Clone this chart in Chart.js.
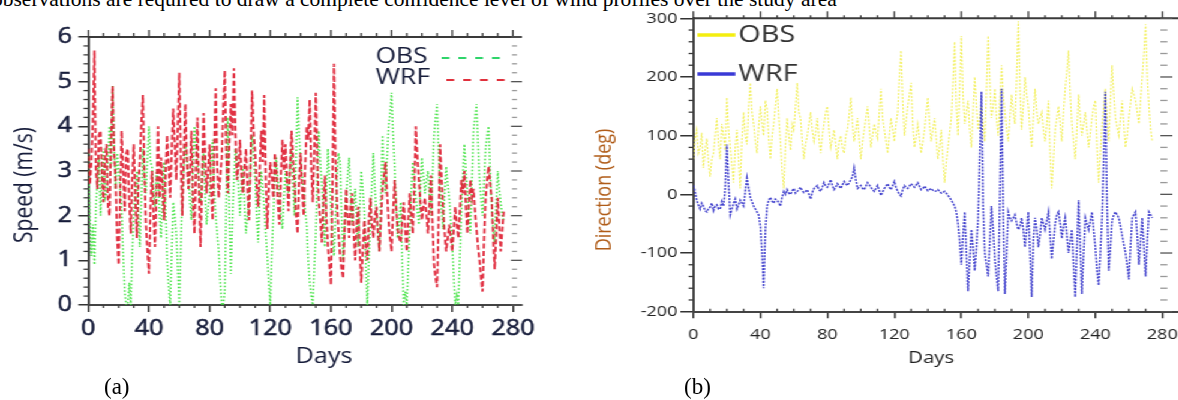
<!DOCTYPE html>
<html>
<head>
<meta charset="utf-8">
<script src="https://cdn.jsdelivr.net/npm/chart.js@4.4.1/dist/chart.umd.min.js"></script>
<style>
  html, body { margin: 0; background: #fff; }
  body { width: 1178px; height: 400px; overflow: hidden; position: relative; }
  /* both panels were laid out at 982px and widened by 1.2 */
  #page { position: absolute; left: 0; top: 0; width: 982px; height: 400px; transform: scaleX(1.2); transform-origin: 0 0; }
  #page canvas { position: absolute; top: 0; }
  .serif { position: absolute; font-family: "Liberation Serif", "Times New Roman", serif; font-size: 21.5px; line-height: 21px; color: #000; white-space: nowrap; }
</style>
</head>
<body>
<div class="serif" style="left:-8px; top:-11.5px">observations are required to draw a complete confidence level of wind profiles over the study area</div>
<div id="page">
  <canvas id="speedChart" width="467" height="400" style="left:0; width:467px; height:400px"></canvas>
  <canvas id="dirChart" width="490" height="400" style="left:491.7px; width:490px; height:400px"></canvas>
</div>
<div class="serif" style="left:104px; top:376px; font-size:23px">(a)</div>
<div class="serif" style="left:684px; top:376px; font-size:23px">(b)</div>
<script>
// one sample per day
var DAYS = [
  0, 1, 2, 3, 4, 5, 6, 7, 8, 9, 10, 11, 12, 13, 14, 15, 16, 17, 18, 19,
  20, 21, 22, 23, 24, 25, 26, 27, 28, 29, 30, 31, 32, 33, 34, 35, 36, 37, 38, 39,
  40, 41, 42, 43, 44, 45, 46, 47, 48, 49, 50, 51, 52, 53, 54, 55, 56, 57, 58, 59,
  60, 61, 62, 63, 64, 65, 66, 67, 68, 69, 70, 71, 72, 73, 74, 75, 76, 77, 78, 79,
  80, 81, 82, 83, 84, 85, 86, 87, 88, 89, 90, 91, 92, 93, 94, 95, 96, 97, 98, 99,
  100, 101, 102, 103, 104, 105, 106, 107, 108, 109, 110, 111, 112, 113, 114, 115, 116, 117, 118, 119,
  120, 121, 122, 123, 124, 125, 126, 127, 128, 129, 130, 131, 132, 133, 134, 135, 136, 137, 138, 139,
  140, 141, 142, 143, 144, 145, 146, 147, 148, 149, 150, 151, 152, 153, 154, 155, 156, 157, 158, 159,
  160, 161, 162, 163, 164, 165, 166, 167, 168, 169, 170, 171, 172, 173, 174, 175, 176, 177, 178, 179,
  180, 181, 182, 183, 184, 185, 186, 187, 188, 189, 190, 191, 192, 193, 194, 195, 196, 197, 198, 199,
  200, 201, 202, 203, 204, 205, 206, 207, 208, 209, 210, 211, 212, 213, 214, 215, 216, 217, 218, 219,
  220, 221, 222, 223, 224, 225, 226, 227, 228, 229, 230, 231, 232, 233, 234, 235, 236, 237, 238, 239,
  240, 241, 242, 243, 244, 245, 246, 247, 248, 249, 250, 251, 252, 253, 254, 255, 256, 257, 258, 259,
  260, 261, 262, 263, 264, 265, 266, 267, 268, 269, 270, 271, 272, 273, 274
];

// wind speed (m/s)
var OBS_SPEED = [
  3.4, 2.0, 1.1, 1.8, 0.9, 2.2, 2.8, 3.3, 2.0, 2.9,
  3.5, 2.4, 2.5, 3.3, 4.0, 3.1, 4.9, 3.6, 2.6, 3.4,
  3.0, 2.6, 2.2, 1.1, 0.3, 0.0, 0.0, 0.5, 0.0, 1.2,
  2.0, 2.6, 3.0, 2.1, 1.3, 2.4, 3.5, 2.8, 2.5, 3.3,
  4.0, 3.2, 3.1, 2.5, 2.2, 3.0, 2.8, 2.0, 1.5, 2.6,
  3.2, 2.1, 1.0, 0.4, 0.0, 1.2, 2.3, 2.0, 1.6, 0.8,
  0.0, 1.3, 2.4, 3.1, 3.6, 3.3, 2.9, 2.3, 1.9, 3.0,
  4.0, 3.5, 3.2, 2.6, 2.3, 2.9, 3.4, 2.5, 1.8, 2.2,
  2.5, 3.2, 3.7, 2.6, 2.0, 1.6, 1.2, 0.5, 0.0, 0.0,
  0.3, 2.5, 4.2, 2.0, 0.7, 1.9, 2.8, 3.5, 3.3, 2.6,
  2.0, 2.7, 3.1, 2.2, 1.6, 2.0, 2.4, 3.2, 3.8, 3.3,
  2.8, 2.0, 1.4, 2.3, 3.0, 2.6, 2.2, 1.6, 1.1, 0.5,
  0.0, 1.1, 2.0, 2.9, 3.3, 2.8, 2.5, 2.0, 1.7, 2.4,
  3.0, 2.7, 2.5, 3.1, 3.5, 2.6, 2.0, 3.3, 4.65, 3.8,
  3.2, 2.9, 2.6, 2.1, 1.8, 1.0, 0.5, 0.2, 0.0, 0.8,
  1.6, 2.9, 3.9, 3.2, 2.7, 2.0, 1.3, 2.5, 3.5, 2.8,
  2.2, 1.6, 1.1, 2.0, 2.9, 3.4, 3.2, 2.0, 1.0, 1.7,
  2.4, 2.9, 3.3, 2.5, 1.8, 2.2, 2.6, 1.9, 1.3, 2.2,
  3.0, 2.6, 2.1, 0.9, 0.0, 1.0, 1.9, 2.7, 3.4, 2.6,
  2.0, 1.6, 1.2, 2.5, 3.8, 3.0, 2.5, 3.3, 4.0, 4.3,
  4.75, 3.8, 3.1, 2.2, 1.5, 1.9, 2.3, 1.0, 0.0, 0.3,
  0.0, 0.9, 1.7, 2.6, 3.2, 2.8, 2.4, 2.1, 1.8, 2.6,
  3.3, 2.9, 2.5, 2.8, 3.0, 2.4, 2.0, 2.9, 3.8, 4.2,
  4.5, 3.4, 2.6, 2.1, 1.7, 2.5, 3.1, 2.7, 2.4, 1.9,
  1.4, 0.6, 0.0, 0.2, 0.0, 1.1, 2.0, 2.9, 3.6, 3.0,
  2.5, 2.0, 1.6, 2.8, 3.9, 4.2, 4.5, 3.6, 2.8, 2.4,
  2.0, 2.8, 3.5, 3.8, 4.0, 3.0, 2.2, 1.7, 1.4, 2.3,
  3.0, 2.6, 2.3, 2.0, 1.9
];
var WRF_SPEED = [
  3.5, 2.7, 3.2, 4.1, 5.7, 3.0, 2.6, 3.8, 3.9, 2.9,
  2.3, 3.3, 3.6, 2.2, 2.0, 3.7, 4.9, 3.4, 2.8, 1.5,
  0.9, 2.5, 3.9, 3.0, 2.1, 3.4, 3.5, 2.3, 1.6, 2.9,
  3.6, 2.4, 1.5, 2.7, 3.2, 4.1, 4.7, 2.9, 1.8, 1.2,
  0.7, 2.2, 3.0, 2.0, 1.3, 2.6, 4.0, 2.4, 3.3, 2.6,
  1.9, 3.0, 3.8, 3.1, 2.4, 3.5, 4.4, 3.6, 2.8, 4.0,
  5.2, 3.3, 2.0, 3.4, 4.5, 3.2, 2.6, 3.0, 3.9, 2.4,
  1.6, 3.1, 4.2, 2.5, 1.3, 2.8, 4.3, 3.4, 2.5, 3.0,
  3.6, 2.6, 1.9, 3.5, 4.85, 3.1, 2.4, 2.9, 3.3, 4.4,
  5.25, 3.4, 2.5, 3.6, 4.5, 3.8, 5.3, 3.9, 2.8, 3.1,
  3.7, 2.9, 2.5, 3.1, 3.5, 2.6, 1.9, 3.3, 4.8, 3.9,
  3.4, 2.7, 2.2, 3.0, 3.9, 3.2, 4.7, 2.9, 1.7, 2.6,
  3.2, 2.9, 2.4, 3.4, 3.0, 2.3, 1.8, 2.9, 3.7, 3.0,
  3.6, 2.8, 2.1, 3.0, 3.9, 3.3, 2.7, 2.0, 1.6, 2.8,
  3.4, 2.6, 2.0, 3.1, 4.0, 3.7, 4.6, 3.1, 2.3, 3.4,
  4.75, 3.2, 2.3, 1.9, 1.4, 2.2, 2.9, 2.0, 1.3, 0.9,
  0.45, 2.6, 5.4, 3.3, 2.3, 1.6, 1.1, 0.8, 0.6, 1.7,
  2.6, 2.0, 1.5, 2.2, 2.5, 1.6, 1.0, 1.8, 2.2, 1.2,
  0.5, 1.2, 1.9, 1.4, 1.0, 1.9, 2.4, 1.8, 1.5, 2.0,
  2.2, 1.6, 1.2, 1.9, 2.6, 2.9, 3.2, 2.5, 1.9, 1.5,
  1.2, 2.1, 2.8, 2.2, 1.7, 1.5, 1.4, 1.9, 2.3, 1.7,
  1.2, 1.9, 2.5, 2.0, 1.6, 2.7, 4.0, 3.3, 2.8, 2.3,
  1.9, 2.2, 2.4, 2.0, 1.6, 2.3, 2.9, 1.8, 0.9, 0.6,
  0.4, 1.9, 3.6, 2.8, 2.1, 1.6, 1.2, 1.5, 1.8, 1.5,
  1.2, 1.7, 2.2, 1.8, 1.5, 2.1, 2.8, 2.5, 3.0, 2.2,
  1.6, 2.3, 2.8, 2.4, 2.6, 2.1, 1.7, 1.3, 1.0, 0.6,
  0.3, 1.5, 2.4, 2.8, 3.1, 2.7, 2.4, 1.5, 0.8, 1.6,
  2.4, 1.8, 1.2, 1.7, 2.1
];

// wind direction (deg)
var OBS_DIR = [
  60, 95, 110, 70, 80, 105, 45, 75, 95, 55,
  30, 60, 70, 100, 130, 85, 60, 120, 100, 75,
  165, 110, 80, 50, 20, 80, 110, 60, 10, 95,
  140, 100, 85, 150, 190, 140, 120, 90, 70, 115,
  150, 120, 100, 160, 145, 95, 60, 100, 120, 150,
  180, 130, 90, 40, 10, 85, 130, 100, 75, 120,
  110, 150, 190, 140, 130, 90, 60, 85, 100, 120,
  140, 110, 90, 105, 130, 95, 70, 100, 120, 140,
  150, 110, 80, 95, 110, 85, 60, 90, 100, 80,
  70, 100, 110, 135, 165, 120, 90, 110, 130, 95,
  60, 90, 110, 130, 150, 115, 80, 100, 120, 105,
  95, 140, 180, 130, 110, 90, 70, 100, 130, 110,
  90, 120, 140, 200, 245, 160, 100, 125, 150, 170,
  190, 120, 80, 100, 120, 95, 70, 90, 110, 140,
  165, 120, 90, 110, 130, 95, 60, 80, 110, 60,
  20, 55, 80, 105, 130, 190, 260, 150, 100, 180,
  270, 170, 120, 140, 160, 110, 80, 140, 200, 150,
  110, 130, 150, 120, 90, 180, 270, 190, 130, 150,
  180, 130, 100, 160, 220, 170, 140, 110, 90, 130,
  170, 140, 120, 200, 295, 180, 110, 150, 200, 170,
  150, 110, 80, 130, 180, 140, 120, 130, 140, 110,
  90, 120, 160, 70, 10, 60, 110, 130, 150, 120,
  90, 140, 180, 210, 245, 170, 120, 90, 60, 110,
  170, 130, 100, 120, 140, 110, 80, 105, 130, 150,
  160, 80, 20, 70, 120, 150, 180, 130, 90, 160,
  220, 170, 130, 115, 100, 130, 160, 120, 80, 100,
  130, 155, 180, 170, 160, 140, 120, 160, 200, 240,
  290, 200, 150, 110, 90
];
var WRF_DIR = [
  15, 5, -10, -18, -25, -15, -20, -28, -30, -24,
  -22, -15, -28, -20, -18, -25, -25, -12, -20, 10,
  85, 20, -35, -25, -15, -8, -25, -18, -10, -15,
  -20, 5, 28, 10, -5, -12, -20, -25, -30, -35,
  -55, -100, -160, -60, -20, -10, -5, -12, -15, -8,
  -10, -15, -20, -5, 5, 0, 8, 2, 0, 6,
  10, 2, 5, 8, 12, 6, 3, 5, 8, 0,
  -8, 3, 10, 12, 15, 8, 5, 12, 20, 14,
  12, 18, 25, 15, 8, 12, 18, 14, 10, 16,
  22, 18, 15, 20, 25, 30, 45, 25, 10, 12,
  15, 10, 8, 14, 20, 16, 12, 8, 5, 10,
  15, 6, -2, 4, 10, 14, 18, 12, 8, 15,
  22, 12, 5, 0, -3, 8, 15, 12, 10, 14,
  18, 15, 12, 16, 20, 14, 8, 10, 14, 10,
  6, 8, 10, 7, 5, 6, 8, 5, 2, 3,
  5, 2, -2, -5, -10, -15, -20, -30, -50, -80,
  -120, -70, -30, -100, -165, -110, -60, -90, -130, -90,
  -40, 60, 175, -20, -100, -120, -140, -80, -20, -60,
  -110, -140, -165, 0, 180, -30, -170, -100, -30, -40,
  -45, -40, -35, -50, -60, -55, -40, -60, -90, -60,
  -30, -100, -175, -80, -40, -60, -90, -70, -40, -50,
  -60, -45, -30, -70, -110, -80, -50, -35, -30, -50,
  -75, -55, -40, -70, -100, -80, -60, -120, -175, -90,
  -10, -90, -170, -100, -40, -50, -60, -45, -30, -60,
  -90, -130, -155, -100, -40, 60, 175, -20, -130, -90,
  -45, -35, -30, -35, -40, -55, -70, -85, -100, -120,
  -145, -90, -40, -35, -30, -70, -120, -80, -40, -90,
  -140, -80, -30, -35, -40
];

var DAY_TICKS = [0, 40, 80, 120, 160, 200, 240, 280];
var SPEED_TICKS = [0, 1, 2, 3, 4, 5, 6];
var DIR_TICKS = [-200, -100, 0, 100, 200, 300];

var SANS = '"Open Sans", "DejaVu Sans", sans-serif';

function points(values) {
  return DAYS.map(function(d, i) { return { x: d, y: values[i] }; });
}

function fixedTicks(list) {
  return function(scale) {
    scale.ticks = list.map(function(v) { return { value: v }; });
  };
}

// frame decoration: top line, minor ticks, right-hand tick marks
function frameTicks(spec) {
  return {
    id: 'frameTicks',
    afterDraw: function(chart) {
      var ctx = chart.ctx, a = chart.chartArea, x = chart.scales.x, y = chart.scales.y;
      var seg = function(x0, y0, x1, y1) {
        ctx.beginPath(); ctx.moveTo(x0, y0); ctx.lineTo(x1, y1); ctx.stroke();
      };
      ctx.save();
      ctx.strokeStyle = spec.color;
      ctx.lineWidth = 2;
      seg(a.left, a.top, a.right, a.top);
      ctx.lineWidth = 1.3;
      for (var d = 0; d <= x.max; d += spec.xMinor) {
        var px = x.getPixelForValue(d);
        var major = d % spec.xMajor === 0;
        seg(px, a.top, px, a.top - (major ? spec.topMajor : spec.topMinor));
        if (!major) seg(px, a.bottom, px, a.bottom + spec.bottomMinor);
      }
      var n = Math.round((y.max - y.min) / spec.yMinor);
      for (var i = 0; i <= n; i++) {
        var v = y.min + i * spec.yMinor;
        var isMajor = Math.abs(v / spec.yMajor - Math.round(v / spec.yMajor)) < 1e-6;
        var py = y.getPixelForValue(v);
        ctx.strokeStyle = spec.color;
        if (!isMajor) seg(a.left, py, a.left - spec.leftMinor, py);
        ctx.strokeStyle = isMajor ? spec.rightMajorColor : spec.rightColor;
        var r = isMajor ? spec.rightMajor : spec.rightMinor;
        seg(a.right + r[0], py, a.right + r[1], py);
      }
      ctx.restore();
    }
  };
}

// series key drawn inside the plot
function lineKey(spec) {
  return {
    id: 'lineKey',
    afterDraw: function(chart) {
      var ctx = chart.ctx;
      chart.data.datasets.forEach(function(ds, i) {
        var it = spec.items[i];
        ctx.save();
        ctx.strokeStyle = it.color;
        ctx.lineWidth = spec.width;
        ctx.setLineDash(spec.dash);
        ctx.beginPath(); ctx.moveTo(it.x0, it.ly); ctx.lineTo(it.x1, it.ly); ctx.stroke();
        ctx.setLineDash([]);
        ctx.font = spec.font;
        ctx.fillStyle = spec.textColor;
        ctx.textBaseline = 'middle';
        ctx.fillText(ds.label, it.tx, it.ty);
        ctx.restore();
      });
    }
  };
}

// axis titles
function axisTitles(items) {
  return {
    id: 'axisTitles',
    afterDraw: function(chart) {
      var ctx = chart.ctx;
      items.forEach(function(t) {
        ctx.save();
        ctx.translate(t.x, t.y);
        if (t.vertical) ctx.rotate(-Math.PI / 2);
        ctx.font = t.font;
        ctx.fillStyle = t.color;
        ctx.textAlign = 'center';
        ctx.textBaseline = 'middle';
        ctx.fillText(t.text, 0, 0);
        ctx.restore();
      });
    }
  };
}

var baseOptions = {
  responsive: false,
  animation: false,
  devicePixelRatio: 1,
  events: [],
  elements: { point: { radius: 0 }, line: { tension: 0 } },
  plugins: { legend: { display: false }, tooltip: { enabled: false } }
};

// speed panel
var inkA = '#161c3a';
new Chart(document.getElementById('speedChart'), {
  type: 'line',
  data: {
    datasets: [
      { label: 'OBS', data: points(OBS_SPEED), borderColor: 'rgba(60,225,60,0.9)', borderWidth: 1.6, borderDash: [1.5, 2], order: 1 },
      { label: 'WRF', data: points(WRF_SPEED), borderColor: 'rgba(222,28,48,0.9)', borderWidth: 1.9, borderDash: [5, 2.5], order: 0 }
    ]
  },
  options: Object.assign({}, baseOptions, {
    layout: { padding: { top: 37, right: 32, left: 0, bottom: 0 } },
    scales: {
      x: {
        type: 'linear', min: 0, max: 286,
        afterBuildTicks: fixedTicks(DAY_TICKS),
        afterFit: function(s) { s.height = 95; s.paddingLeft = 0; s.paddingRight = 0; },
        ticks: { font: { family: SANS, size: 21 }, color: inkA, padding: 4.9, maxRotation: 0, autoSkip: false, textStrokeColor: inkA, textStrokeWidth: 0.5 },
        grid: { drawOnChartArea: false, tickLength: 7, color: '#333', lineWidth: 1.5 },
        border: { color: '#444', width: 2 }
      },
      y: {
        type: 'linear', min: 0, max: 6,
        afterBuildTicks: fixedTicks(SPEED_TICKS),
        afterFit: function(s) { s.width = 73.6; s.paddingTop = 0; s.paddingBottom = 0; },
        ticks: { font: { family: SANS, size: 21 }, color: inkA, padding: 5.3, textStrokeColor: inkA, textStrokeWidth: 0.5 },
        grid: { drawOnChartArea: false, tickLength: 8.3, color: '#333', lineWidth: 1.5 },
        border: { color: '#444', width: 2 }
      }
    }
  }),
  plugins: [
    frameTicks({
      color: '#3a3a3a', rightColor: '#999', rightMajorColor: '#555',
      xMinor: 10, xMajor: 40, topMajor: 7, topMinor: 4, bottomMinor: 3,
      yMinor: 0.2, yMajor: 1, leftMinor: 4,
      rightMinor: [-8.3, -4.2], rightMajor: [-9.2, 0]
    }),
    lineKey({
      font: '22px ' + SANS, textColor: inkA, width: 1.8, dash: [6.5, 7.5],
      items: [
        { color: '#2ed46a', tx: 313, ty: 56.7, x0: 368, x1: 422, ly: 58 },
        { color: '#e0303c', tx: 313, ty: 78, x0: 372, x1: 424, ly: 80 }
      ]
    }),
    axisTitles([
      { text: 'Speed (m/s)', x: 21.3, y: 185, vertical: true, font: '21px ' + SANS, color: inkA },
      { text: 'Days', x: 270, y: 357, font: '21px ' + SANS, color: inkA }
    ])
  ]
});

// direction panel
var inkB = '#222';
new Chart(document.getElementById('dirChart'), {
  type: 'line',
  data: {
    datasets: [
      { label: 'OBS', data: points(OBS_DIR), borderColor: 'rgba(240,236,60,0.85)', borderWidth: 1.1, borderDash: [2, 1.5], order: 1 },
      { label: 'WRF', data: points(WRF_DIR), borderColor: 'rgba(45,45,200,0.9)', borderWidth: 1.5, borderDash: [2, 1.2], order: 0 }
    ]
  },
  options: Object.assign({}, baseOptions, {
    layout: { padding: { top: 18.3, right: 0, left: 0, bottom: 0 } },
    scales: {
      x: {
        type: 'linear', min: 0, max: 289.6,
        afterBuildTicks: fixedTicks(DAY_TICKS),
        afterFit: function(s) { s.height = 88.3; s.paddingLeft = 0; s.paddingRight = 0; },
        ticks: { font: { family: SANS, size: 15 }, color: inkB, padding: 7.5, maxRotation: 0, autoSkip: false },
        grid: { drawOnChartArea: false, tickLength: 6.5, color: '#333', lineWidth: 1.5 },
        border: { color: '#444', width: 2 }
      },
      y: {
        type: 'linear', min: -200, max: 300,
        afterBuildTicks: fixedTicks(DIR_TICKS),
        afterFit: function(s) { s.width = 85.8; s.paddingTop = 0; s.paddingBottom = 0; },
        ticks: { font: { family: SANS, size: 15 }, color: inkB, padding: 2.5 },
        grid: { drawOnChartArea: false, tickLength: 10.8, color: '#333', lineWidth: 1.5 },
        border: { color: '#444', width: 2 }
      }
    }
  }),
  plugins: [
    frameTicks({
      color: '#3a3a3a', rightColor: '#999', rightMajorColor: '#555',
      xMinor: 10, xMajor: 40, topMajor: 7, topMinor: 3, bottomMinor: -3,
      yMinor: 20, yMajor: 100, leftMinor: 4,
      rightMinor: [-15, -9.2], rightMajor: [-15, -5]
    }),
    lineKey({
      font: '24px ' + SANS, textColor: '#333', width: 3.5, dash: [],
      items: [
        { color: '#f4ee10', tx: 123.3, ty: 35, x0: 89.2, x1: 120.8, ly: 35 },
        { color: '#3a3ad6', tx: 123.3, ty: 74, x0: 89.2, x1: 120.8, ly: 74 }
      ]
    }),
    axisTitles([
      { text: 'Direction (deg)', x: 12.1, y: 190, vertical: true, font: '18px ' + SANS, color: '#b05c18' },
      { text: 'Days', x: 284, y: 358, font: '17px ' + SANS, color: inkB }
    ])
  ]
});
</script>
</body>
</html>
